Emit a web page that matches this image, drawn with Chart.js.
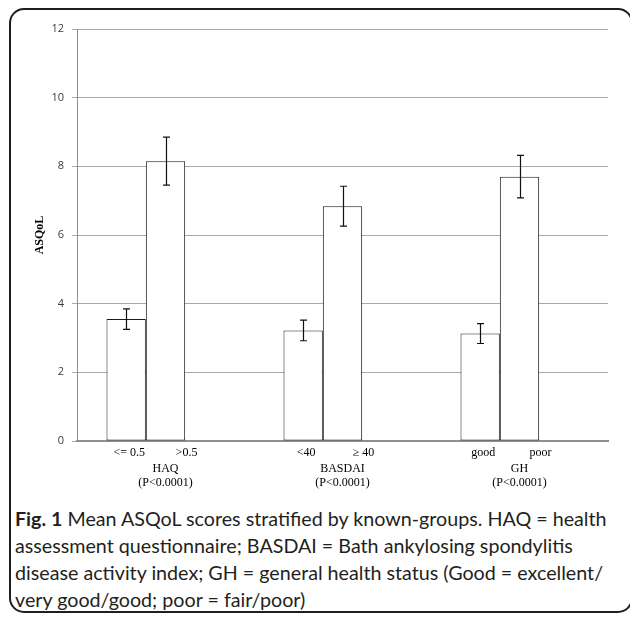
<!DOCTYPE html>
<html>
<head>
<meta charset="utf-8">
<script src="https://cdn.jsdelivr.net/npm/chart.js@4/dist/chart.umd.min.js"></script>
<style>
  html, body { margin: 0; padding: 0; background: #fff; }
  #wrap { position: relative; width: 630px; height: 617px; overflow: hidden; }
  #frame {
    position: absolute; left: 9px; top: 8px; width: 624px; height: 605px;
    border: 2px solid #1e1e1e; border-radius: 15px; box-sizing: border-box;
  }
  #bars { position: absolute; left: 0; top: 0; }
  #caption {
    position: absolute; left: 15px; top: 505px; width: 615px;
    font-family: Lato, "Open Sans", sans-serif; font-size: 19.7px; line-height: 27px;
    color: #231f20; white-space: nowrap;
  }
</style>
</head>
<body>
<div id="wrap">
  <div id="frame"></div>
  <canvas id="bars" width="630" height="500"></canvas>
  <div id="caption">
    <b>Fig. 1</b> Mean ASQoL scores stratified by known-groups. HAQ = health<br>
    assessment questionnaire; BASDAI = Bath ankylosing spondylitis<br>
    disease activity index; GH = general health status (Good = excellent/<br>
    very good/good; poor = fair/poor)
  </div>
</div>
<script>
// values
var groups = ['HAQ', 'BASDAI', 'GH'];
var pValues = ['(P<0.0001)', '(P<0.0001)', '(P<0.0001)'];
var lowLabels = ['<= 0.5', '<40', 'good'];
var highLabels = ['>0.5', '\u2265 40', 'poor'];
var lowMeans = [3.55, 3.22, 3.13];
var highMeans = [8.15, 6.84, 7.70];
var lowErr = [0.30, 0.30, 0.29];
var highErr = [0.70, 0.58, 0.62];

var serif = '"Liberation Serif", "Times New Roman", serif';

// error bars on top of the two real series
var errorBars = {
  id: 'errorBars',
  afterDatasetsDraw(chart) {
    var ctx = chart.ctx;
    var y = chart.scales.y;
    var errs = [lowErr, highErr];
    ctx.save();
    ctx.strokeStyle = '#111';
    ctx.lineWidth = 1.2;
    [0, 1].forEach(function (d) {
      var meta = chart.getDatasetMeta(d);
      var vals = chart.data.datasets[d].data;
      meta.data.forEach(function (bar, i) {
        var x = Math.round(bar.x) + 0.5;
        var top = y.getPixelForValue(vals[i] + errs[d][i]);
        var bot = y.getPixelForValue(vals[i] - errs[d][i]);
        ctx.beginPath();
        ctx.moveTo(x, top); ctx.lineTo(x, bot);
        ctx.moveTo(x - 3.5, top); ctx.lineTo(x + 3.5, top);
        ctx.moveTo(x - 3.5, bot); ctx.lineTo(x + 3.5, bot);
        ctx.stroke();
      });
    });
    ctx.restore();
  }
};

// sub-group labels under each bar pair
var subLabels = {
  id: 'subLabels',
  afterDraw(chart) {
    var ctx = chart.ctx;
    var base = chart.chartArea.bottom;
    var m0 = chart.getDatasetMeta(0), m1 = chart.getDatasetMeta(1);
    ctx.save();
    ctx.font = '12px ' + serif;
    ctx.fillStyle = '#000';
    ctx.textAlign = 'center';
    ctx.textBaseline = 'middle';
    groups.forEach(function (g, i) {
      ctx.fillText(lowLabels[i], m0.data[i].x + 3, base + 12);
      ctx.fillText(highLabels[i], m1.data[i].x + 21, base + 12);
    });
    ctx.restore();
  }
};

var barStyle = {
  backgroundColor: '#fff',
  borderColor: '#1a1a1a',
  borderWidth: 1,
  borderSkipped: false,
  categoryPercentage: 2 / 3,
  barPercentage: 1
};

new Chart(document.getElementById('bars'), {
  type: 'bar',
  data: {
    labels: groups.map(function (g, i) { return [g, pValues[i]]; }),
    datasets: [
      Object.assign({ label: 'low', data: lowMeans }, barStyle),
      Object.assign({ label: 'high', data: highMeans }, barStyle),
      Object.assign({ label: 'spacer', data: [null, null, null] }, barStyle)
    ]
  },
  options: {
    responsive: false,
    animation: false,
    layout: { padding: { left: 0, right: 22, top: 29, bottom: 0 } },
    plugins: {
      legend: { display: false },
      tooltip: { enabled: false }
    },
    scales: {
      x: {
        grid: { display: false, drawTicks: false },
        border: { color: '#8f8f8f', width: 2 },
        ticks: {
          padding: 21,
          color: '#000',
          font: { family: serif, size: 12, lineHeight: 1.15 },
          maxRotation: 0
        },
        afterFit: function (s) { s.height = 59; }
      },
      y: {
        min: 0, max: 12,
        grid: { color: '#a8a8a8', lineWidth: 1, tickLength: 5 },
        border: { color: '#8f8f8f', width: 1 },
        ticks: {
          stepSize: 2, padding: 8, color: '#3a3a3a',
          font: { family: '"Open Sans", sans-serif', size: 11 }
        },
        title: {
          display: true, text: 'ASQoL', color: '#000',
          font: { family: serif, size: 12, weight: 'bold' },
          padding: { top: 33, bottom: 0 }
        },
        afterFit: function (s) { s.width = 77; }
      }
    }
  },
  plugins: [errorBars, subLabels]
});
</script>
</body>
</html>
